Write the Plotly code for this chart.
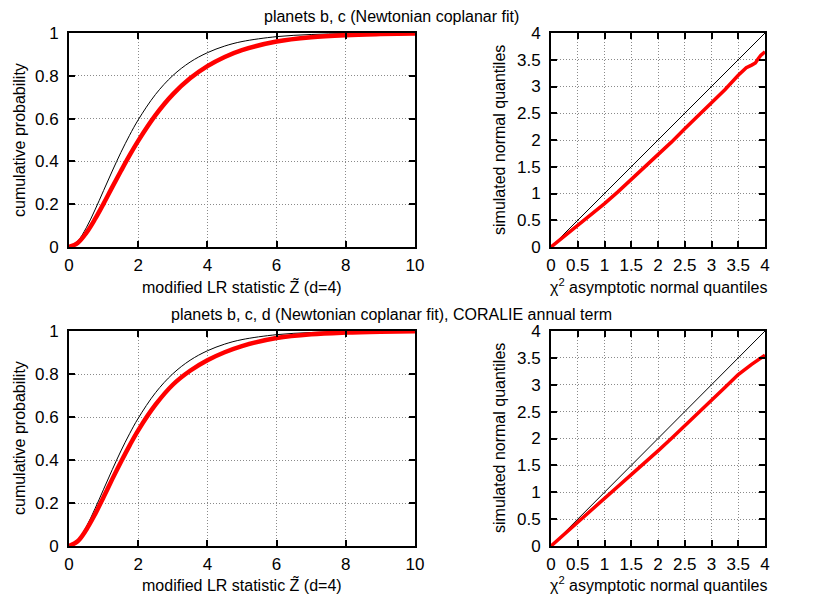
import plotly.graph_objects as go

# ---- data ----
cdf_x = [0, 0.25, 0.5, 0.75, 1, 1.25, 1.5, 1.75, 2, 2.5, 3, 3.5, 4, 4.5, 5, 6, 7, 8, 9, 10]
cdf_asym = [0, 0.027, 0.090, 0.173, 0.264, 0.355, 0.442, 0.522, 0.594, 0.713, 0.801, 0.864,
            0.908, 0.939, 0.960, 0.983, 0.993, 0.997, 0.999, 0.9995]
cdf_sim_top = [0, 0.019, 0.066, 0.130, 0.203, 0.280, 0.355, 0.428, 0.496, 0.616, 0.713, 0.788,
               0.845, 0.888, 0.920, 0.960, 0.980, 0.990, 0.995, 0.998]
cdf_sim_bot = [0, 0.022, 0.076, 0.147, 0.228, 0.311, 0.391, 0.467, 0.538, 0.657, 0.750, 0.815,
               0.864, 0.901, 0.930, 0.967, 0.985, 0.993, 0.997, 0.999]

qq_diag = [0, 4]
qq_x_top = [0, 0.25, 0.5, 0.75, 1.0, 1.25, 1.5, 1.75, 2.0, 2.25, 2.5, 2.75, 3.0, 3.25, 3.5,
            3.6, 3.65, 3.75, 3.82, 3.86, 3.92, 4.0]
qq_y_top = [0, 0.20, 0.40, 0.60, 0.81, 1.03, 1.26, 1.49, 1.72, 1.96, 2.21, 2.45, 2.69, 2.94, 3.21,
            3.30, 3.35, 3.40, 3.44, 3.50, 3.58, 3.65]
qq_x_bot = [0, 0.25, 0.5, 0.75, 1.0, 1.25, 1.5, 1.75, 2.0, 2.25, 2.5, 2.75, 3.0, 3.25, 3.5, 3.75, 4.0]
qq_y_bot = [0, 0.22, 0.43, 0.65, 0.87, 1.09, 1.31, 1.54, 1.77, 2.00, 2.23, 2.47, 2.71, 2.95, 3.19,
            3.38, 3.55]

left_xticks = [0, 2, 4, 6, 8, 10]
left_yticks = [0, 0.2, 0.4, 0.6, 0.8, 1]
right_ticks = [0, 0.5, 1, 1.5, 2, 2.5, 3, 3.5, 4]

title_top = "planets b, c (Newtonian coplanar fit)"
title_bot = "planets b, c, d (Newtonian coplanar fit), CORALIE annual term"
xlab_left = "modified LR statistic Z\u0303 (d=4)"
ylab_left = "cumulative probability"
xlab_right = "\u03c7<sup>2</sup> asymptotic normal quantiles"
ylab_right = "simulated normal quantiles"

W, H = 830, 595
FONT = "Liberation Sans, Arial, Helvetica, sans-serif"

def px(x):
    return x / W

def py(y):
    return 1 - y / H

fig = go.Figure()

panels = [
    ("x", "y", cdf_x, cdf_asym, cdf_x, cdf_sim_top, 4.5),
    ("x2", "y2", qq_diag, qq_diag, qq_x_top, qq_y_top, 3.5),
    ("x3", "y3", cdf_x, cdf_asym, cdf_x, cdf_sim_bot, 4.5),
    ("x4", "y4", qq_diag, qq_diag, qq_x_bot, qq_y_bot, 3.5),
]
for xa, ya, bx, by, rx, ry, rw in panels:
    shape = "spline" if xa in ("x", "x3") else "linear"
    fig.add_trace(go.Scatter(x=bx, y=by, xaxis=xa, yaxis=ya, mode="lines",
                             line=dict(color="black", width=1, shape=shape),
                             showlegend=False, hoverinfo="skip"))
    fig.add_trace(go.Scatter(x=rx, y=ry, xaxis=xa, yaxis=ya, mode="lines",
                             line=dict(color="#ff0000", width=rw, shape=shape),
                             showlegend=False, hoverinfo="skip"))

common = dict(showline=True, linecolor="black", linewidth=2, mirror="allticks",
              ticks="inside", ticklen=6, tickwidth=1.5, tickcolor="black",
              showgrid=True, gridcolor="#8a8a8a", griddash="1px,2px", gridwidth=1,
              zeroline=False, tickfont=dict(family=FONT, size=17, color="black"),
              fixedrange=True, automargin=False)

LX0, LX1 = 69, 415
RX0, RX1 = 551, 765
TY0, TY1 = 33, 247
BY0, BY1 = 331, 546

layout_axes = {}
def axis_pair(xn, yn, xd, yd, xr, yr, xt, yt, anchor_x, anchor_y):
    layout_axes[xn] = dict(common, domain=[px(xd[0]), px(xd[1])], range=xr,
                           tickvals=xt, anchor=anchor_y, ticklabelstandoff=2)
    layout_axes[yn] = dict(common, domain=[py(yd[1]), py(yd[0])], range=yr,
                           tickvals=yt, anchor=anchor_x, ticklabelstandoff=5)

axis_pair("xaxis", "yaxis", (LX0, LX1), (TY0, TY1), [0, 10], [0, 1], left_xticks, left_yticks, "x", "y")
axis_pair("xaxis2", "yaxis2", (RX0, RX1), (TY0, TY1), [0, 4], [0, 4], right_ticks, right_ticks, "x2", "y2")
axis_pair("xaxis3", "yaxis3", (LX0, LX1), (BY0, BY1), [0, 10], [0, 1], left_xticks, left_yticks, "x3", "y3")
axis_pair("xaxis4", "yaxis4", (RX0, RX1), (BY0, BY1), [0, 4], [0, 4], right_ticks, right_ticks, "x4", "y4")

tf = dict(family=FONT, size=16, color="black")
annotations = []
def ann(text, x, y, angle=0):
    annotations.append(dict(text=text, x=px(x), y=py(y), xref="paper", yref="paper",
                            showarrow=False, font=tf, textangle=angle,
                            xanchor="center", yanchor="middle"))

for dy, title in ((0, title_top), (298, title_bot)):
    ann(title, 391, 16 + dy)
    ann(xlab_left, 242, 286 + dy)
    ann(ylab_left, 19, 140 + dy, -90)
    ann(xlab_right, 658, 286 + dy)
    ann(ylab_right, 499, 140 + dy, -90)

fig.update_layout(width=W, height=H, margin=dict(l=0, r=0, t=0, b=0, autoexpand=False),
                  paper_bgcolor="white", plot_bgcolor="white",
                  font=tf, showlegend=False, annotations=annotations, **layout_axes)

fig.write_html("out.html", config={"displayModeBar": False},
               post_script="document.body.style.margin='0';document.body.style.overflow='hidden';")
